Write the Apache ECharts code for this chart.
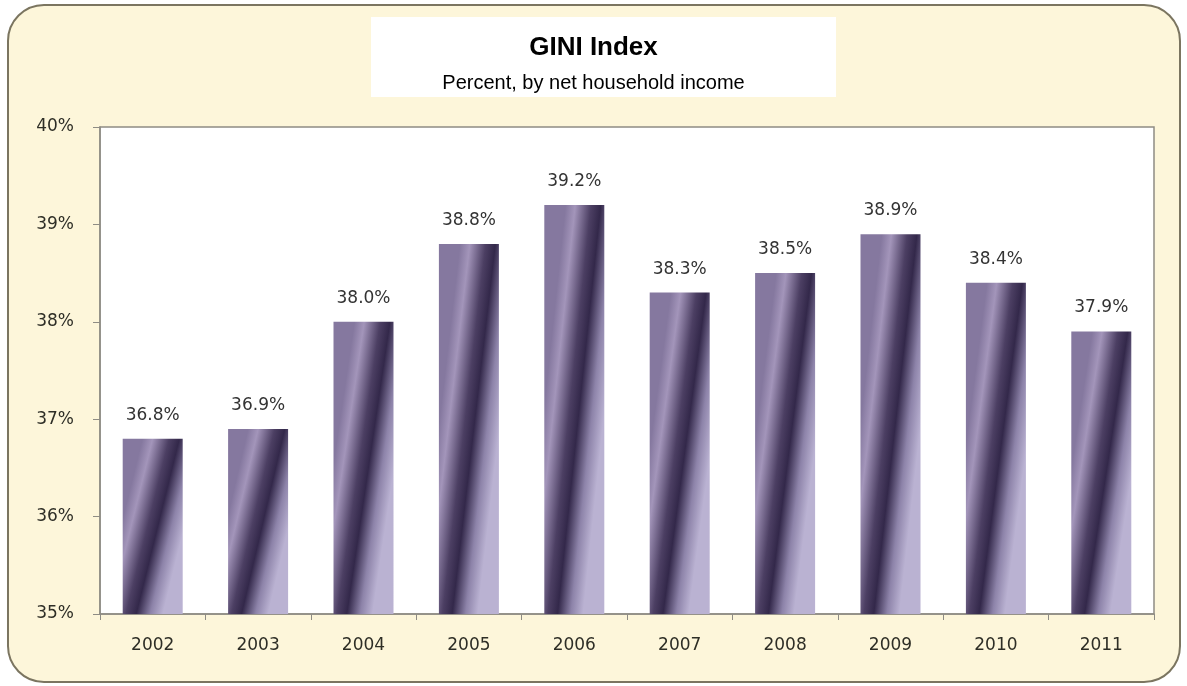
<!DOCTYPE html>
<html>
<head>
<meta charset="utf-8">
<script src="https://cdn.jsdelivr.net/npm/echarts@6/dist/echarts.min.js"></script>
<style>
html,body{margin:0;padding:0;background:#ffffff;}
#chart{width:1187px;height:686px;}
</style>
</head>
<body>
<div id="chart"></div>
<script>
var titleText = 'GINI Index';
var subtitleText = 'Percent, by net household income';
var years = ['2002','2003','2004','2005','2006','2007','2008','2009','2010','2011'];
var gini = [36.8, 36.9, 38.0, 38.8, 39.2, 38.3, 38.5, 38.9, 38.4, 37.9];
var yMin = 35, yMax = 40, yStep = 1;

var chart = echarts.init(document.getElementById('chart'));

var plotH = 487, barW = 60;
function barStyle(v) {
  var h = (v - yMin) / (yMax - yMin) * plotH;
  var r = 0.72 * (barW / h) * (barW / h);
  return {
    color: {
      type: 'linear', x: 0, y: 0.5 - r / 2, x2: 1, y2: 0.5 + r / 2,
      colorStops: [
        {offset: 0, color: '#85789f'},
        {offset: 0.16, color: '#a395ba'},
        {offset: 0.42, color: '#4c3f63'},
        {offset: 0.58, color: '#33284a'},
        {offset: 0.8, color: '#8d83a9'},
        {offset: 1, color: '#bab2d2'}
      ]
    }
  };
}

var barData = gini.map(function (v) { return {value: v, itemStyle: barStyle(v)}; });

chart.setOption({
  backgroundColor: '#ffffff',
  animation: false,
  graphic: [
    {type: 'rect', z: -10, shape: {x: 8, y: 5, width: 1172, height: 677, r: 36},
     style: {fill: '#fdf6da', stroke: '#7b7560', lineWidth: 2}},
    {type: 'rect', z: -5, shape: {x: 371, y: 17, width: 465, height: 80},
     style: {fill: '#ffffff'}}
  ],
  title: {
    text: titleText,
    subtext: subtitleText,
    left: 'center',
    top: 30,
    itemGap: 12,
    textStyle: {fontFamily: 'Liberation Sans', fontWeight: 'bold', fontSize: 26, color: '#000', lineHeight: 26},
    subtextStyle: {fontFamily: 'Liberation Sans', fontSize: 20, color: '#000', lineHeight: 20}
  },
  grid: {
    left: 100, right: 33, top: 127, bottom: 72,
    show: true, backgroundColor: '#ffffff', borderColor: '#8e8c84', borderWidth: 1.5
  },
  xAxis: {
    type: 'category',
    data: years,
    axisLine: {lineStyle: {color: '#8e8c84', width: 1.5}},
    axisTick: {show: true, length: 6, lineStyle: {color: '#8e8c84'}},
    axisLabel: {margin: 23, fontFamily: 'DejaVu Sans', fontSize: 17, color: '#2e2e26'}
  },
  yAxis: {
    type: 'value',
    min: yMin, max: yMax, interval: yStep,
    splitLine: {show: false},
    axisLine: {show: true, lineStyle: {color: '#8e8c84', width: 1.5}},
    axisTick: {show: true, length: 7, lineStyle: {color: '#8e8c84'}},
    axisLabel: {margin: 26, formatter: '{value}%', fontFamily: 'DejaVu Sans', fontSize: 17, color: '#2e2e26'}
  },
  series: [{
    type: 'bar',
    data: barData,
    barWidth: barW,
    label: {
      show: true, position: 'top', distance: 15,
      formatter: function (p) { return p.value.toFixed(1) + '%'; },
      fontFamily: 'DejaVu Sans', fontSize: 17, color: '#333333'
    }
  }]
});
</script>
</body>
</html>
